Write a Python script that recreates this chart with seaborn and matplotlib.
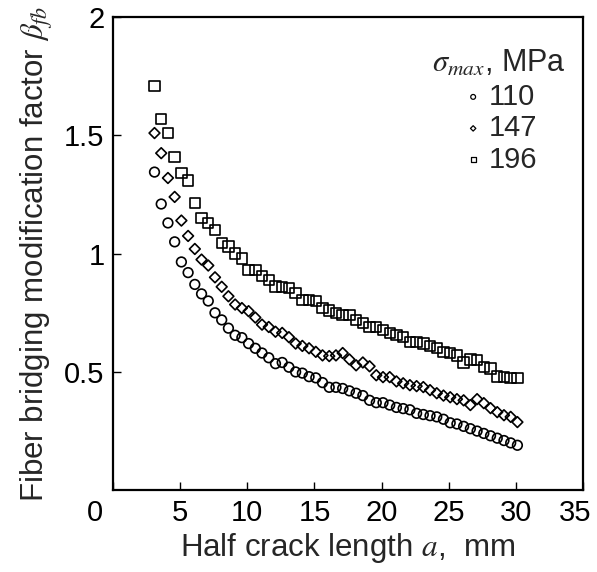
import numpy as np
import pandas as pd
import matplotlib
matplotlib.use("Agg")
import matplotlib.pyplot as plt
import matplotlib.transforms as mtrans
import seaborn as sns

# Halbe Risslaenge a [mm] (gemeinsam fuer alle drei Reihen)
a_mm = [3.1, 3.6, 4.1, 4.6, 5.1, 5.6, 6.1, 6.6, 7.1, 7.6,
        8.1, 8.6, 9.1, 9.6, 10.1, 10.6, 11.1, 11.6, 12.1, 12.6,
        13.1, 13.6, 14.1, 14.6, 15.1, 15.6, 16.1, 16.6, 17.1, 17.6,
        18.1, 18.6, 19.1, 19.6, 20.1, 20.6, 21.1, 21.6, 22.1, 22.6,
        23.1, 23.6, 24.1, 24.6, 25.1, 25.6, 26.1, 26.6, 27.1, 27.6,
        28.1, 28.6, 29.1, 29.6, 30.1]

beta_110 = [1.345, 1.21, 1.13, 1.05, 0.965, 0.92, 0.87, 0.83, 0.80, 0.75,
            0.72, 0.685, 0.655, 0.645, 0.62, 0.60, 0.58, 0.56, 0.535, 0.54,
            0.52, 0.50, 0.495, 0.48, 0.475, 0.455, 0.435, 0.435, 0.43, 0.42,
            0.41, 0.40, 0.38, 0.37, 0.37, 0.36, 0.35, 0.345, 0.34, 0.325,
            0.32, 0.315, 0.31, 0.30, 0.285, 0.28, 0.27, 0.26, 0.25, 0.24,
            0.23, 0.22, 0.21, 0.20, 0.19]

beta_147 = [1.51, 1.425, 1.32, 1.24, 1.14, 1.075, 1.02, 0.975, 0.95, 0.90,
            0.86, 0.82, 0.785, 0.77, 0.757, 0.73, 0.70, 0.69, 0.67, 0.665,
            0.647, 0.62, 0.61, 0.60, 0.585, 0.57, 0.567, 0.57, 0.58, 0.553,
            0.528, 0.54, 0.524, 0.486, 0.478, 0.478, 0.46, 0.452, 0.444, 0.44,
            0.436, 0.423, 0.41, 0.40, 0.393, 0.385, 0.38, 0.36, 0.385, 0.368,
            0.347, 0.33, 0.317, 0.31, 0.288]

beta_196 = [1.71, 1.57, 1.51, 1.41, 1.34, 1.31, 1.215, 1.15, 1.13, 1.10,
            1.045, 1.03, 1.00, 0.98, 0.93, 0.93, 0.905, 0.89, 0.862, 0.858,
            0.854, 0.833, 0.805, 0.805, 0.80, 0.77, 0.76, 0.748, 0.74, 0.74,
            0.72, 0.706, 0.69, 0.69, 0.677, 0.664, 0.655, 0.647, 0.626, 0.626,
            0.62, 0.61, 0.60, 0.584, 0.58, 0.57, 0.54, 0.553, 0.55, 0.52,
            0.515, 0.48, 0.478, 0.474, 0.474]

sigma_labels = ["110", "147", "196"]

sns.set_style("ticks")
plt.rcParams['font.family'] = ['Liberation Sans', 'DejaVu Sans']
plt.rcParams['mathtext.fontset'] = 'stix'

fig = plt.figure(figsize=(5.97, 5.72), dpi=100)
ax = fig.add_axes([0.189, 0.143, 0.788, 0.827])

serien = [(beta_110, 'o', 48), (beta_147, 'D', 30), (beta_196, 's', 56)]
for (werte, mk, groesse), lab in zip(serien, sigma_labels):
    sns.scatterplot(x=a_mm, y=werte, marker=mk, s=groesse, facecolors='none',
                    edgecolors='black', linewidths=1.2, label=lab, ax=ax)

ax.set_xlim(0, 35)
ax.set_ylim(0, 2)
ax.set_xticks([0, 5, 10, 15, 20, 25, 30, 35])
ax.set_yticks([0.5, 1, 1.5, 2])
ax.set_yticklabels(["0.5", "1", "1.5", "2"])
ax.tick_params(direction='in', length=6, width=1, labelsize=21, colors='black')
ax.tick_params(axis='x', pad=6)
ax.tick_params(axis='y', pad=6)
for sp in ax.spines.values():
    sp.set_linewidth(1.6)
    sp.set_color('black')

# "0" sitzt im Original links neben der Ecke, "35" etwas nach innen
xlabs = ax.get_xticklabels()
for lab, dx in [(xlabs[0], -0.18), (xlabs[-1], -0.08)]:
    lab.set_transform(lab.get_transform() +
                      mtrans.ScaledTranslation(dx, 0, fig.dpi_scale_trans))

ax.set_xlabel(r"Half crack length $a$,  mm", fontsize=22.5, labelpad=3)
ax.set_ylabel(r"Fiber bridging modification factor $\beta_{fb}$", fontsize=22.5, labelpad=6)

leg = ax.legend(title=r"$\sigma_{max}$, MPa", loc='upper right',
                bbox_to_anchor=(1.0, 0.97), frameon=False, fontsize=21,
                markerscale=0.5, handletextpad=0.1, labelspacing=0.12,
                handlelength=0.9, borderaxespad=0.2)
leg.get_title().set_fontsize(22)
for h in leg.legend_handles:
    h.set_linewidth(0.9)

fig.savefig("out.png", dpi=100)
